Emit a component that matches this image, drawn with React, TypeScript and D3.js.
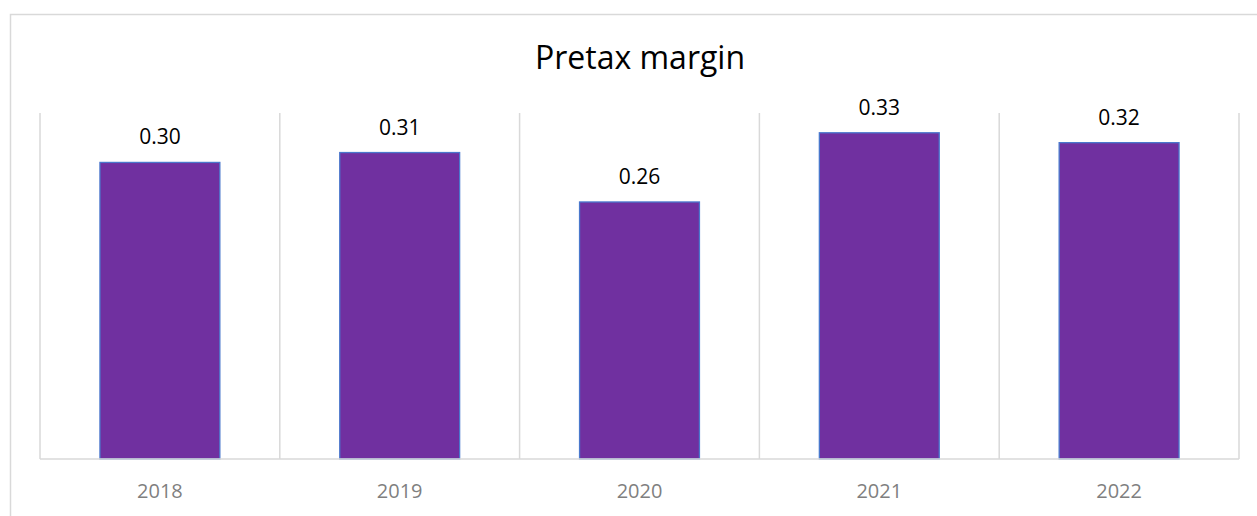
import React from "react";
import * as d3 from "d3";

const categories = ["2018", "2019", "2020", "2021", "2022"];
const values = [0.30, 0.31, 0.26, 0.33, 0.32];
const labels = ["0.30", "0.31", "0.26", "0.33", "0.32"];
const title = "Pretax margin";

export default function App() {
  const W = 1257, H = 516;
  const left = 40, right = 1239, top = 113, bottom = 459;
  const x = d3.scaleBand<string>().domain(categories).range([left, right]).paddingInner(0.5).paddingOuter(0.25);
  const xb = d3.scaleBand<string>().domain(categories).range([left, right]);
  const y = d3.scaleLinear().domain([0, 0.35]).range([bottom, top]);
  const font = "'Open Sans', sans-serif";
  return (
    <svg width={W} height={H} style={{ position: "absolute", left: 0, top: 0, background: "#fff" }}>
      <rect x={10.5} y={14.5} width={W + 10} height={H + 10} fill="#fff" stroke="#d9d9d9" strokeWidth={1.5} />
      <text x={640} y={69} textAnchor="middle" fontFamily={font} fontSize={32} fill="#000">{title}</text>
      {categories.map((c, i) => (
        <line key={"g" + i} x1={xb(c)!} x2={xb(c)!} y1={top} y2={bottom} stroke="#d9d9d9" strokeWidth={1.5} />
      ))}
      <line x1={right} x2={right} y1={top} y2={bottom} stroke="#d9d9d9" strokeWidth={1.5} />
      {categories.map((c, i) => (
        <rect key={"b" + i} x={x(c)!} y={y(values[i])} width={x.bandwidth()} height={bottom - y(values[i])}
          fill="#7030A0" stroke="#4a78cc" strokeWidth={1.3} />
      ))}
      <line x1={left} x2={right} y1={bottom} y2={bottom} stroke="#d9d9d9" strokeWidth={1.5} />
      {categories.map((c, i) => (
        <text key={"l" + i} x={x(c)! + x.bandwidth() / 2} y={y(values[i]) - 18} textAnchor="middle"
          fontFamily={font} fontSize={21} fill="#000">{labels[i]}</text>
      ))}
      {categories.map((c, i) => (
        <text key={"t" + i} x={x(c)! + x.bandwidth() / 2} y={498} textAnchor="middle"
          fontFamily={font} fontSize={20} fill="#7f7f7f">{c}</text>
      ))}
    </svg>
  );
}
